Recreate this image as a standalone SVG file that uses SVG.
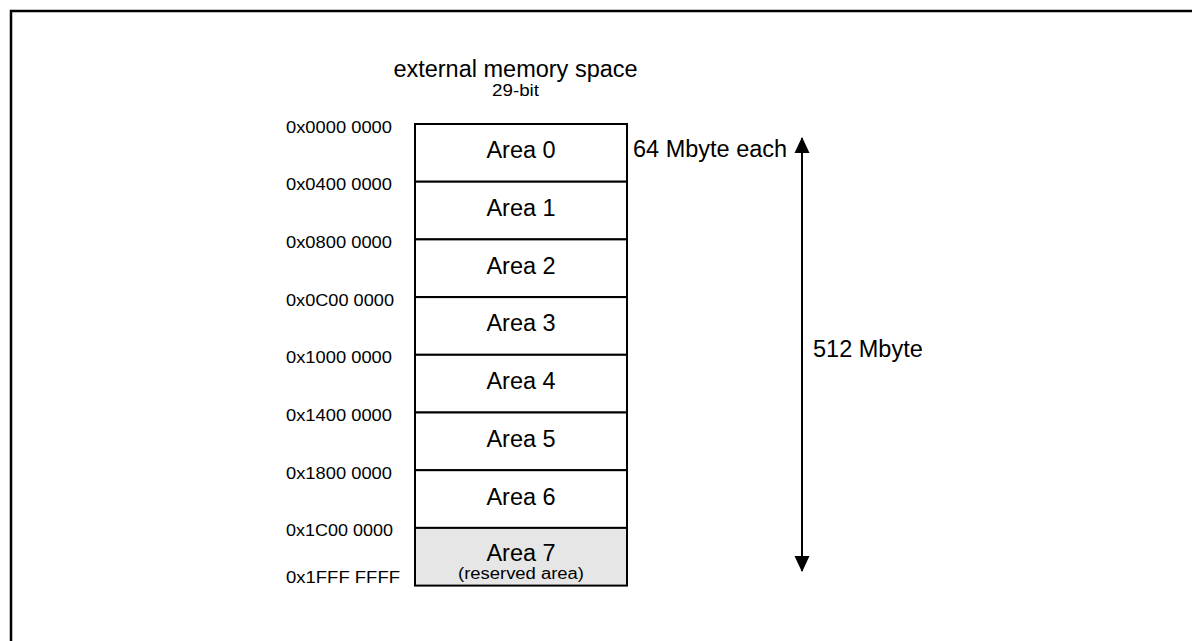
<svg xmlns="http://www.w3.org/2000/svg" width="1192" height="641" viewBox="0 0 1192 641">
  <style>
    text { font-family: "Liberation Sans", Arial, Helvetica, sans-serif; fill: #000; }
    .big { font-size: 23.5px; }
    .addr { font-size: 16.5px; }
    .small { font-size: 16px; }
    .mid { text-anchor: middle; }
    .cell { fill: #fff; stroke: #000; stroke-width: 2; }
    .reserved { fill: #e6e6e6; stroke: #000; stroke-width: 2; }
    .frame { fill: none; stroke: #000; stroke-width: 2.5; }
    .dim { stroke: #000; stroke-width: 2; fill: none; }
  </style>
  <defs>
    <marker id="arrowhead" viewBox="0 0 16 16" refX="15" refY="8" markerWidth="16" markerHeight="16" markerUnits="userSpaceOnUse" orient="auto-start-reverse">
      <path d="M0,0.5 L16,8 L0,15.5 Z" fill="#000"/>
    </marker>
  </defs>

  <rect width="1192" height="641" fill="#fff"/>
  <!-- page frame, open to the right and bottom -->
  <rect class="frame" x="11" y="11" width="1250" height="700"/>

  <!-- heading -->
  <g id="title">
    <text class="big mid" x="515.5" y="77">external memory space</text>
    <text class="small mid" x="515.5" y="96" textLength="47" lengthAdjust="spacingAndGlyphs">29-bit</text>
  </g>

  <!-- memory areas, 64 Mbyte each -->
  <g id="area0"><rect class="cell" x="415" y="124" width="212" height="57.7"/><text class="big mid" x="521" y="158.3">Area 0</text></g>
  <g id="area1"><rect class="cell" x="415" y="181.7" width="212" height="57.7"/><text class="big mid" x="521" y="216">Area 1</text></g>
  <g id="area2"><rect class="cell" x="415" y="239.4" width="212" height="57.7"/><text class="big mid" x="521" y="273.7">Area 2</text></g>
  <g id="area3"><rect class="cell" x="415" y="297.1" width="212" height="57.7"/><text class="big mid" x="521" y="331.4">Area 3</text></g>
  <g id="area4"><rect class="cell" x="415" y="354.8" width="212" height="57.7"/><text class="big mid" x="521" y="389.1">Area 4</text></g>
  <g id="area5"><rect class="cell" x="415" y="412.5" width="212" height="57.7"/><text class="big mid" x="521" y="446.8">Area 5</text></g>
  <g id="area6"><rect class="cell" x="415" y="470.2" width="212" height="57.7"/><text class="big mid" x="521" y="504.5">Area 6</text></g>
  <g id="area7">
    <rect class="reserved" x="415" y="527.9" width="212" height="57.7"/>
    <text class="big mid" x="521" y="561">Area 7</text>
    <text class="small mid" x="521" y="578.5" textLength="126" lengthAdjust="spacingAndGlyphs">(reserved area)</text>
  </g>

  <!-- address labels -->
  <g id="addresses">
    <text class="addr" x="286" y="132.5" textLength="106" lengthAdjust="spacingAndGlyphs">0x0000 0000</text>
    <text class="addr" x="286" y="190.2" textLength="106" lengthAdjust="spacingAndGlyphs">0x0400 0000</text>
    <text class="addr" x="286" y="247.9" textLength="106" lengthAdjust="spacingAndGlyphs">0x0800 0000</text>
    <text class="addr" x="286" y="305.6" textLength="108" lengthAdjust="spacingAndGlyphs">0x0C00 0000</text>
    <text class="addr" x="286" y="363.3" textLength="106" lengthAdjust="spacingAndGlyphs">0x1000 0000</text>
    <text class="addr" x="286" y="421" textLength="106" lengthAdjust="spacingAndGlyphs">0x1400 0000</text>
    <text class="addr" x="286" y="478.7" textLength="106" lengthAdjust="spacingAndGlyphs">0x1800 0000</text>
    <text class="addr" x="286" y="536.4" textLength="107" lengthAdjust="spacingAndGlyphs">0x1C00 0000</text>
    <text class="addr" x="286" y="583.3" textLength="114" lengthAdjust="spacingAndGlyphs">0x1FFF FFFF</text>
  </g>

  <!-- size annotations -->
  <g id="size-labels">
    <text class="big" x="633" y="157.3">64 Mbyte each</text>
    <text class="big" x="813" y="356.7">512 Mbyte</text>
  </g>

  <!-- total span dimension arrow -->
  <g id="connectors">
    <line class="dim" x1="802" y1="138" x2="802" y2="571" marker-start="url(#arrowhead)" marker-end="url(#arrowhead)"/>
  </g>
</svg>
